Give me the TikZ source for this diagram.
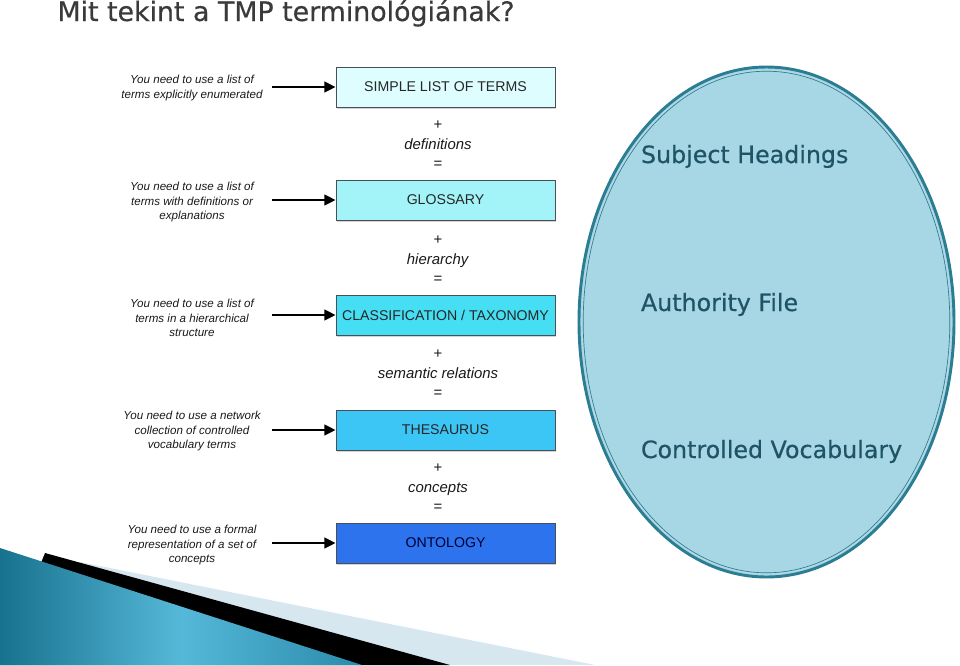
\documentclass[tikz,border=0pt]{standalone}
\usepackage{fontspec}
\setmainfont{Liberation Sans}
\newfontfamily\dejavu{DejaVu Sans}[FakeBold=0.45]
\usetikzlibrary{arrows.meta,shadows}

\definecolor{boxline}{HTML}{4A4F55}
\definecolor{simplefill}{HTML}{DDFDFE}
\definecolor{glossfill}{HTML}{A2F4F8}
\definecolor{classfill}{HTML}{45DEF3}
\definecolor{thesfill}{HTML}{3CC6F5}
\definecolor{ontofill}{HTML}{2E73EE}
\definecolor{ovalfill}{HTML}{A7D7E5}
\definecolor{ovalline}{HTML}{2B7D93}
\definecolor{ovaltext}{HTML}{1E5466}
\definecolor{titlegray}{HTML}{3A3A3A}
\definecolor{wedgelight}{HTML}{D6E7EF}
\definecolor{wedgedark}{HTML}{17728E}
\definecolor{wedgemid}{HTML}{56B8D8}
\definecolor{wedgeend}{HTML}{2A8BAD}

\tikzset{every picture/.style={line width=0.75pt}}
\tikzset{
  termbox/.style={draw=boxline, line width=0.6pt, minimum width=164.25pt, minimum height=30pt,
    inner sep=0pt, text=black!85, font=\fontsize{10.6}{12}\selectfont,
    drop shadow={shadow xshift=0.8pt, shadow yshift=-1.8pt, opacity=0.35}},
  needtext/.style={align=center, inner sep=0pt, text=black!90, font=\fontsize{8.7}{10.9}\selectfont\itshape},
  steptext/.style={align=center, inner sep=0pt, text=black!90, font=\fontsize{11.2}{14.6}\selectfont},
  needarrow/.style={line width=1.8pt, -{Triangle[length=8.5pt,width=8pt]}},
  ovallabel/.style={anchor=base west, inner sep=0pt, text=ovaltext, font=\dejavu\fontsize{17.8}{20}\selectfont}
}

\begin{document}
\begin{tikzpicture}[x=0.75pt,y=0.75pt,yscale=-1,xscale=1]
\useasboundingbox (0,0) rectangle (960,665);

% bottom left wedges
\fill [wedgelight] (80,562) -- (595,665) -- (0,665) -- cycle;
\fill [black] (45,553) -- (450,665) -- (0,665) -- cycle;
\shade [left color=wedgedark, right color=wedgeend, middle color=wedgemid] (0,548) -- (362,665) -- (0,665) -- cycle;

% title
\draw (57,21) node [anchor=base west, inner sep=0pt, text=titlegray, font=\dejavu\fontsize{20.1}{24}\selectfont] (title) {Mit tekint a TMP terminológiának?};

% the oval
\draw [fill=ovalfill, draw=ovalline, line width=2.2pt] (766.5,322) ellipse (187.5 and 255);
\draw [draw=white!70!ovalline, line width=0.5pt] (766.5,322) ellipse (184.5 and 252);
\draw [draw=ovalline, line width=0.5pt] (766.5,322) ellipse (183.3 and 250.8);

\draw (640.5,163) node [ovallabel] (subj) {Subject Headings};
\draw (640.5,311) node [ovallabel] (auth) {Authority File};
\draw (640.5,458) node [ovallabel] (cvoc) {Controlled Vocabulary};

% the boxes
\draw (445.5,87) node [termbox, fill=simplefill] (b1) {SIMPLE LIST OF TERMS};
\draw (445.5,200) node [termbox, fill=glossfill] (b2) {GLOSSARY};
\draw (445.5,315) node [termbox, fill=classfill] (b3) {CLASSIFICATION / TAXONOMY};
\draw (445.5,430) node [termbox, fill=thesfill] (b4) {THESAURUS};
\draw (445.5,543) node [termbox, fill=ontofill, text=black!80!blue] (b5) {ONTOLOGY};

% what is added between them
\draw (438,145) node [steptext] (s1) {+\\\textit{definitions}\\=};
\draw (438,260) node [steptext] (s2) {+\\\textit{hierarchy}\\=};
\draw (438,374) node [steptext] (s3) {+\\\textit{semantic relations}\\=};
\draw (438,488) node [steptext] (s4) {+\\\textit{concepts}\\=};

% the needs
\draw (192,88) node [needtext] (n1) {You need to use a list of\\terms explicitly enumerated};
\draw (192,202) node [needtext] (n2) {You need to use a list of\\terms with definitions or\\explanations};
\draw (192,318) node [needtext] (n3) {You need to use a list of\\terms in a hierarchical\\structure};
\draw (192,431) node [needtext] (n4) {You need to use a network\\collection of controlled\\vocabulary terms};
\draw (192,545) node [needtext] (n5) {You need to use a formal\\representation of a set of\\concepts};

\coordinate (a1) at (272,87);
\coordinate (a2) at (272,200);
\coordinate (a3) at (272,315);
\coordinate (a4) at (272,430);
\coordinate (a5) at (272,543);

\draw [needarrow] (a1) -- (b1);
\draw [needarrow] (a2) -- (b2);
\draw [needarrow] (a3) -- (b3);
\draw [needarrow] (a4) -- (b4);
\draw [needarrow] (a5) -- (b5);

\end{tikzpicture}
\end{document}
